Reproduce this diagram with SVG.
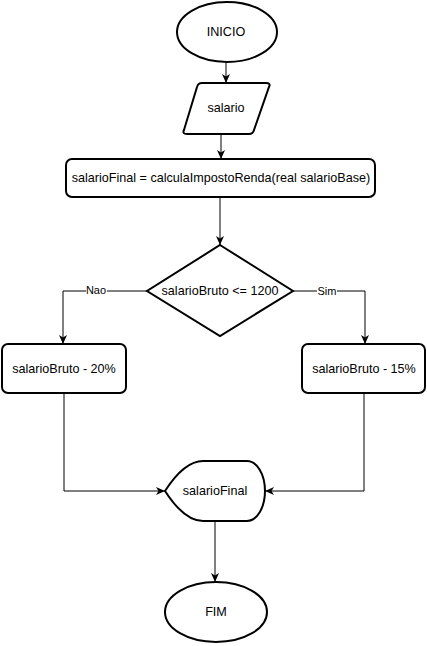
<svg xmlns="http://www.w3.org/2000/svg" width="427" height="646" viewBox="0 0 427 646">
<defs>
<marker id="arr" markerWidth="10" markerHeight="10" refX="9" refY="4" orient="auto" markerUnits="userSpaceOnUse">
<path d="M0,0 L9,4 L0,8 L2.5,4 Z" fill="#000"/>
</marker>
</defs>
<style>
.n{fill:#fff;stroke:#000;stroke-width:2}
.e{fill:none;stroke:#000;stroke-width:1;marker-end:url(#arr)}
.t{font-family:"Liberation Sans",Arial,sans-serif;font-size:12.6px;fill:#000;text-anchor:middle;dominant-baseline:central}
.l{font-family:"Liberation Sans",Arial,sans-serif;font-size:11px;fill:#000;text-anchor:middle;dominant-baseline:central}
</style>
<rect width="427" height="646" fill="#fff"/>
<g id="connectors">
<path class="e" d="M226,62 L226,83"/>
<path class="e" d="M221,134 L221,159"/>
<path class="e" d="M220,197 L220,245"/>
<path class="e" d="M147,291 L63,291 L63,344"/>
<path class="e" d="M293,291 L365,291 L365,344"/>
<path class="e" d="M64,393 L64,491 L165,491"/>
<path class="e" d="M364,393 L364,491 L265,491"/>
<path class="e" d="M215,521 L215,582"/>
<rect x="86" y="284" width="21" height="13" fill="#fff"/>
<text class="l" x="96" y="290">Nao</text>
<rect x="317" y="284" width="20" height="13" fill="#fff"/>
<text class="l" x="327" y="291">Sim</text>
</g>
<g id="inicio">
<ellipse class="n" cx="227" cy="32" rx="50" ry="30"/>
<text class="t" x="226" y="32">INICIO</text>
</g>
<g id="salario">
<path class="n" d="M202,83 L266,83 Q271,83 269,87 L254,130 Q253,134 249,134 L187,134 Q182,134 184,130 L197,87 Q198,83 202,83 Z"/>
<text class="t" x="226" y="108">salario</text>
</g>
<g id="calcula">
<rect class="n" x="66" y="159" width="309" height="38" rx="6"/>
<text class="t" x="221" y="178">salarioFinal = calculaImpostoRenda(real salarioBase)</text>
</g>
<g id="decisao">
<path class="n" d="M220,245 L293,291 L220,336 L147,291 Z"/>
<text class="t" x="220" y="291">salarioBruto &lt;= 1200</text>
</g>
<g id="vinte">
<rect class="n" x="2" y="344" width="124" height="49" rx="6"/>
<text class="t" x="64" y="369">salarioBruto - 20%</text>
</g>
<g id="quinze">
<rect class="n" x="302" y="344" width="123" height="49" rx="6"/>
<text class="t" x="364" y="369">salarioBruto - 15%</text>
</g>
<g id="salarioFinal">
<path class="n" d="M165,491 C176,474 188,461 203,461 L247,461 A18,30 0 0 1 247,521 L203,521 C188,521 176,508 165,491 Z"/>
<text class="t" x="215" y="491">salarioFinal</text>
</g>
<g id="fim">
<ellipse class="n" cx="216" cy="612" rx="51" ry="30"/>
<text class="t" x="216" y="612">FIM</text>
</g>
</svg>
